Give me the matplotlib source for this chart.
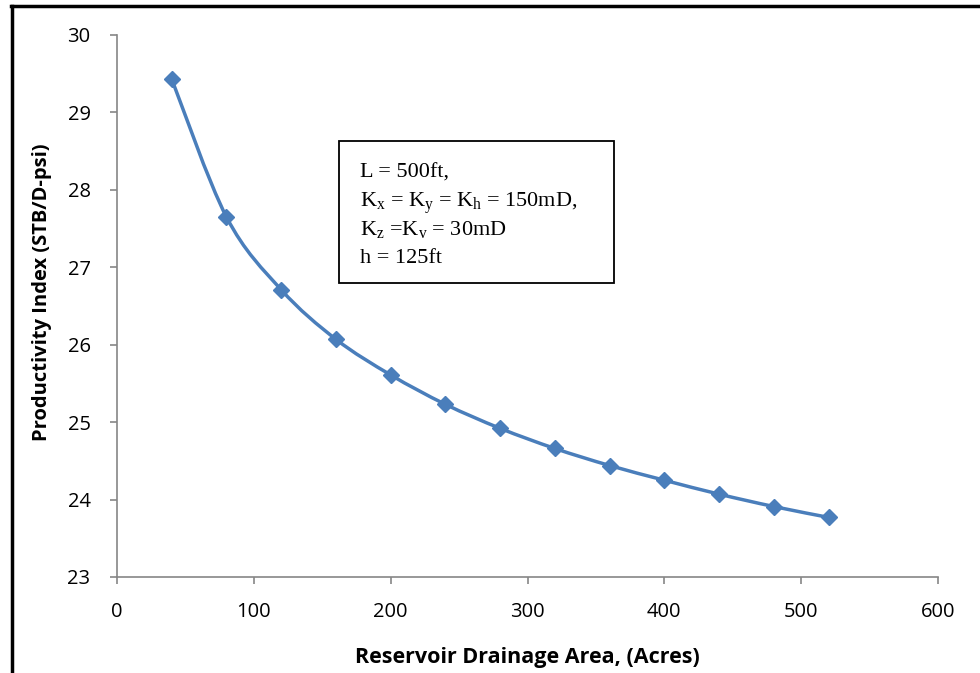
import numpy as np
import matplotlib
matplotlib.use("Agg")
import matplotlib.pyplot as plt
from matplotlib.path import Path
from matplotlib.patches import PathPatch
from matplotlib.lines import Line2D

# ── Data ──────────────────────────────────────────────────────────────────────
area_acres = [40, 80, 120, 160, 200, 240, 280, 320, 360, 400, 440, 480, 520]
prod_index = [29.43, 27.65, 26.71, 26.07, 25.61, 25.23, 24.92,
              24.66, 24.44, 24.25, 24.07, 23.91, 23.77]

x_ticks = [0, 100, 200, 300, 400, 500, 600]
y_ticks = [23, 24, 25, 26, 27, 28, 29, 30]

note_lines = [
    "L = 500ft,",
    r"K$_\mathrm{x}$ = K$_\mathrm{y}$ = K$_\mathrm{h}$ = 150mD,",
    r"K$_\mathrm{z}$ =K$_\mathrm{v}$ = 30mD",
    "h = 125ft",
]

BLUE = "#4A7EBB"
GREY = "#868686"

plt.rcParams.update({
    "mathtext.fontset": "custom",
    "mathtext.rm": "Liberation Serif",
    "mathtext.it": "Liberation Serif:italic",
})

fig = plt.figure(figsize=(9.8, 6.73), dpi=100)
ax = fig.add_axes([117 / 980, 1 - 577 / 673, (938 - 117) / 980, (577 - 35) / 673])


# smooth curve like Excel's "scatter with smooth lines" (Catmull-Rom -> Bezier)
def smooth_path(xs, ys, t=1 / 6):
    xs = np.asarray(xs, float)
    ys = np.asarray(ys, float)
    px = np.concatenate([[xs[0]], xs, [xs[-1]]])
    py = np.concatenate([[ys[0]], ys, [ys[-1]]])
    verts = [(xs[0], ys[0])]
    codes = [Path.MOVETO]
    for i in range(1, len(xs)):
        c1 = (px[i] + (px[i + 1] - px[i - 1]) * t, py[i] + (py[i + 1] - py[i - 1]) * t)
        c2 = (px[i + 1] - (px[i + 2] - px[i]) * t, py[i + 1] - (py[i + 2] - py[i]) * t)
        verts += [c1, c2, (px[i + 1], py[i + 1])]
        codes += [Path.CURVE4] * 3
    return Path(verts, codes)


ax.add_patch(PathPatch(smooth_path(area_acres, prod_index), fill=False,
                       edgecolor=BLUE, linewidth=2.5, capstyle="round", zorder=2))
ax.plot(area_acres, prod_index, linestyle="none", marker="D", markersize=8,
        color=BLUE, zorder=3)

ax.set_xlim(0, 600)
ax.set_ylim(23, 30)
ax.set_xticks(x_ticks)
ax.set_yticks(y_ticks)

for side in ["top", "right"]:
    ax.spines[side].set_visible(False)
for side in ["left", "bottom"]:
    ax.spines[side].set_color(GREY)
    ax.spines[side].set_linewidth(1.2)
ax.tick_params(axis="both", direction="out", length=5, width=1.2, color=GREY,
               labelsize=14.5, labelfontfamily="Open Sans")
ax.tick_params(axis="x", pad=13)
ax.tick_params(axis="y", pad=14)

ax.set_xlabel("Reservoir Drainage Area, (Acres)", fontsize=15.5, fontweight="bold",
              family="Open Sans")
ax.set_ylabel("Productivity Index (STB/D-psi)", fontsize=14.5, fontweight="bold",
              family="Open Sans")
ax.xaxis.set_label_coords(0.5, -0.13)
ax.yaxis.set_label_coords(-0.079, 0.525)

# annotation box, one line at a time
for i, line in enumerate(note_lines):
    fig.text(360 / 980, 1 - (178 + 28.5 * i) / 673, line, fontsize=16,
             family="Liberation Serif", va="baseline", ha="left")
fig.add_artist(plt.Rectangle((339 / 980, 1 - 283 / 673), (614 - 339) / 980,
                             (283 - 141) / 673, transform=fig.transFigure,
                             fill=False, edgecolor="black", linewidth=1.3))

# outer frame (top and left edges visible)
fig.add_artist(Line2D([11 / 980, 1], [1 - 5.5 / 673, 1 - 5.5 / 673],
                      transform=fig.transFigure, color="black", linewidth=2.5))
fig.add_artist(Line2D([11.5 / 980, 11.5 / 980], [0, 1 - 5.5 / 673],
                      transform=fig.transFigure, color="black", linewidth=2.5))

fig.savefig("out.png", dpi=100)
